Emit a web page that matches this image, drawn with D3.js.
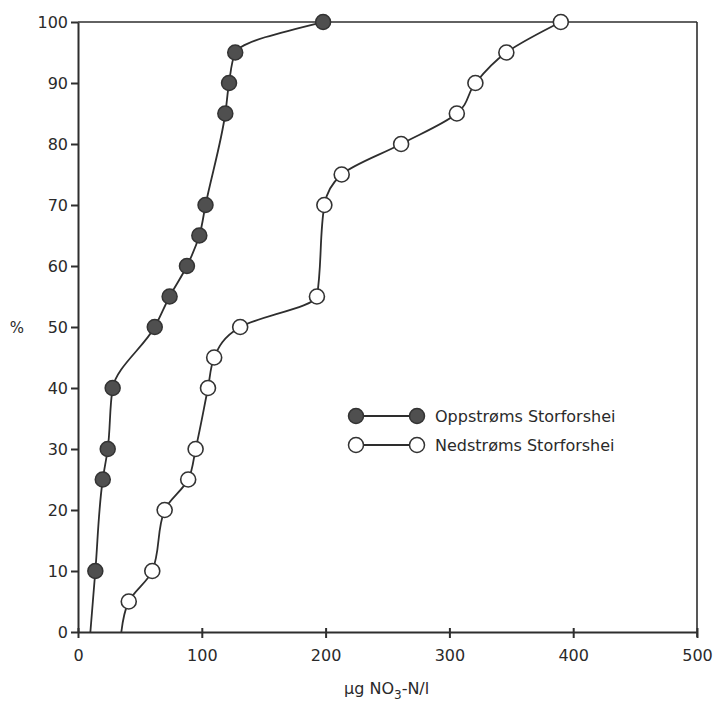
<!DOCTYPE html>
<html>
<head>
<meta charset="utf-8">
<script src="https://cdn.jsdelivr.net/npm/d3@7"></script>
<style>
  body { margin: 0; background: #fff; }
  text { font-family: "DejaVu Sans", sans-serif; fill: #2a2a2a; }
</style>
</head>
<body>
<svg id="chart" width="713" height="706"></svg>
<script>
// values
const xTicks = [0, 100, 200, 300, 400, 500]
const yTicks = [0, 10, 20, 30, 40, 50, 60, 70, 80, 90, 100]

// first point of each series is where the curve leaves the axis, no marker there
const upX = [10, 14, 20, 24, 28, 62, 74, 88, 98, 103, 119, 122, 127, 198]
const upY = [0, 10, 25, 30, 40, 50, 55, 60, 65, 70, 85, 90, 95, 100]
const downX = [35, 41, 60, 70, 89, 95, 105, 110, 131, 193, 199, 213, 261, 306, 321, 346, 390]
const downY = [0, 5, 10, 20, 25, 30, 40, 45, 50, 55, 70, 75, 80, 85, 90, 95, 100]

const seriesNames = ["Oppstrøms Storforshei", "Nedstrøms Storforshei"]

const margin = {left: 78, top: 22, right: 16, bottom: 74}
const width = 713, height = 706
const innerWidth = width - margin.left - margin.right
const innerHeight = height - margin.top - margin.bottom

const ink = "#2e2e2e"

const svg = d3.select('#chart')
const g = svg.append('g').attr('transform', `translate(${margin.left},${margin.top})`)

const xScale = d3.scaleLinear().domain([0, 500]).range([0, innerWidth])
const yScale = d3.scaleLinear().domain([0, 100]).range([innerHeight, 0])

// frame: top and right
g.append('line')
  .attr('x1', 0).attr('x2', innerWidth).attr('y1', 0).attr('y2', 0)
  .attr('stroke', ink).attr('stroke-width', 1.6)
g.append('line')
  .attr('x1', innerWidth).attr('x2', innerWidth).attr('y1', 0).attr('y2', innerHeight + 5)
  .attr('stroke', ink).attr('stroke-width', 1.6)

// axes
const xAxis = d3.axisBottom(xScale).tickValues(xTicks).tickSize(6).tickPadding(12).tickSizeOuter(0)
const yAxis = d3.axisLeft(yScale).tickValues(yTicks).tickSize(7).tickPadding(3).tickSizeOuter(0)

const xAxisG = g.append('g').attr('transform', `translate(0,${innerHeight})`).call(xAxis)
const yAxisG = g.append('g').call(yAxis)

;[xAxisG, yAxisG].forEach(a => {
  a.select('.domain').attr('stroke', ink).attr('stroke-width', 2)
  a.selectAll('.tick line').attr('stroke', ink).attr('stroke-width', 2)
  a.selectAll('.tick text').attr('font-size', 16).attr('fill', ink)
    .style('font-family', '"DejaVu Sans", sans-serif')
})
xAxisG.selectAll('.tick line').attr('y1', -4)

// axis titles
svg.append('text')
  .attr('x', 17).attr('y', 333)
  .attr('text-anchor', 'middle')
  .attr('font-size', 15)
  .text('%')

const xTitle = svg.append('text')
  .attr('x', 344).attr('y', 694)
  .attr('font-size', 16)
xTitle.append('tspan').text('µg NO')
xTitle.append('tspan').attr('font-size', 12).attr('dy', 5).text('3')
xTitle.append('tspan').attr('dy', -5).text('-N/l')

// curves
const line = d3.line()
  .x(d => xScale(d[0]))
  .y(d => yScale(d[1]))
  .curve(d3.curveMonotoneY)

const upData = upX.map((x, i) => [x, upY[i]])
const downData = downX.map((x, i) => [x, downY[i]])

g.append('path').datum(upData)
  .attr('d', line).attr('fill', 'none').attr('stroke', ink).attr('stroke-width', 1.8)
g.append('path').datum(downData)
  .attr('d', line).attr('fill', 'none').attr('stroke', ink).attr('stroke-width', 1.8)

const r = 7.5
g.selectAll('.up').data(upData.slice(1)).enter().append('circle')
  .attr('class', 'up')
  .attr('cx', d => xScale(d[0])).attr('cy', d => yScale(d[1])).attr('r', r)
  .attr('fill', '#4f4f4f').attr('stroke', '#333').attr('stroke-width', 1.5)
g.selectAll('.down').data(downData.slice(1)).enter().append('circle')
  .attr('class', 'down')
  .attr('cx', d => xScale(d[0])).attr('cy', d => yScale(d[1])).attr('r', r)
  .attr('fill', '#fff').attr('stroke', '#333').attr('stroke-width', 1.6)

// legend
const legend = svg.append('g').attr('class', 'legend').attr('transform', 'translate(356,416)')
const legendRows = [
  {name: seriesNames[0], fill: '#4f4f4f'},
  {name: seriesNames[1], fill: '#fff'}
]
legendRows.forEach((row, i) => {
  const y = i * 29
  legend.append('line')
    .attr('x1', 0).attr('x2', 61).attr('y1', y).attr('y2', y)
    .attr('stroke', ink).attr('stroke-width', 1.8)
  ;[0, 61].forEach(cx => {
    legend.append('circle')
      .attr('cx', cx).attr('cy', y).attr('r', r)
      .attr('fill', row.fill).attr('stroke', '#333').attr('stroke-width', 1.5)
  })
  legend.append('text')
    .attr('x', 79).attr('y', y + 6)
    .attr('font-size', 16)
    .text(row.name)
})
</script>
</body>
</html>
